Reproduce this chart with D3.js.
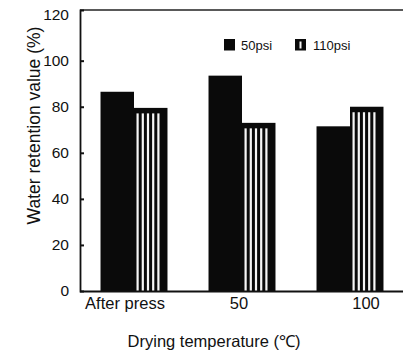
<!DOCTYPE html>
<html>
<head>
<meta charset="utf-8">
<script src="https://cdn.jsdelivr.net/npm/d3@7"></script>
<style>
  html, body { margin: 0; padding: 0; background: #fff; }
  svg { display: block; font-family: "Liberation Sans", Arial, Helvetica, sans-serif; }
</style>
</head>
<body>
<svg id="chart" width="403" height="351"></svg>
<script>
// Water retention value by drying temperature, for two pressing pressures
const categories = ["After press", "50", "100"];
const seriesNames = ["50psi", "110psi"];
const values50psi = [86.5, 93.5, 71.5];
const values110psi = [79.5, 73, 80];
const yTicks = [0, 20, 40, 60, 80, 100, 120];

const svg = d3.select("#chart");
const plotLeft = 80, plotRight = 404, plotTop = 10, plotBottom = 291;

const x0 = d3.scaleBand().domain(categories).range([plotLeft, plotRight])
  .paddingInner(0.38).paddingOuter(0.19);
const x1 = d3.scaleBand().domain(seriesNames).range([0, x0.bandwidth()]);
const y = d3.scaleLinear().domain([0, 122]).range([plotBottom, plotTop]);

const rows = categories.map((c, i) => ({
  cat: c,
  bars: [
    { key: "50psi", value: values50psi[i] },
    { key: "110psi", value: values110psi[i] }
  ]
}));

// Bars
const groups = svg.append("g").selectAll("g").data(rows).join("g")
  .attr("transform", d => `translate(${x0(d.cat)},0)`);

groups.selectAll("rect").data(d => d.bars).join("rect")
  .attr("x", d => x1(d.key))
  .attr("y", d => y(d.value))
  .attr("width", x1.bandwidth())
  .attr("height", d => y(0) - y(d.value))
  .attr("fill", "#0a0a0a");

// Vertical white stripes inside the 110psi bars
const stripePeriod = 5.2, stripeW = 2.2, insetL = 2.5, insetR = 6, topBand = 5.5;
groups.each(function(d) {
  const b = d.bars[1];
  const bx = x1(b.key), bw = x1.bandwidth();
  const g = d3.select(this);
  const xs = d3.range(bx + insetL, bx + bw - insetR - stripeW + 0.1, stripePeriod);
  g.selectAll("rect.stripe").data(xs).join("rect")
    .attr("class", "stripe")
    .attr("x", s => s)
    .attr("y", y(b.value) + topBand)
    .attr("width", stripeW)
    .attr("height", y(0) - y(b.value) - topBand)
    .attr("fill", "#f6f6f6");
});

// Top frame line
svg.append("line")
  .attr("x1", plotLeft).attr("x2", 403)
  .attr("y1", plotTop).attr("y2", plotTop)
  .attr("stroke", "#222").attr("stroke-width", 1.6);

// Y axis with inward ticks
const yAxis = d3.axisLeft(y).tickValues(yTicks).tickSize(-4).tickPadding(11);
const gy = svg.append("g").attr("transform", `translate(${plotLeft},0)`).call(yAxis);
gy.select(".domain").attr("stroke", "#111").attr("stroke-width", 1.8);
gy.selectAll(".tick line").attr("stroke", "#111").attr("stroke-width", 2)
  .filter(d => d === 0 || d === 120).remove();
gy.selectAll(".tick text").attr("font-size", 15.5).attr("fill", "#111")
  .attr("font-family", "Liberation Sans, Arial, sans-serif");

// X axis (baseline only, with category labels)
const labelNudge = [-9, -3, 16];
const xAxis = d3.axisBottom(x0).tickSize(0).tickPadding(6);
const gx = svg.append("g").attr("transform", `translate(0,${plotBottom})`).call(xAxis);
gx.select(".domain").attr("d", `M${plotLeft},0.5H403`)
  .attr("stroke", "#111").attr("stroke-width", 1.8);
gx.selectAll(".tick text").attr("font-size", 16.5).attr("fill", "#111")
  .attr("font-family", "Liberation Sans, Arial, sans-serif")
  .attr("dx", (d, i) => labelNudge[i]);

// Axis titles
svg.append("text")
  .attr("transform", `translate(40,${(plotTop + plotBottom) / 2 - 25}) rotate(-90)`)
  .attr("text-anchor", "middle").attr("font-size", 17.5).attr("fill", "#111")
  .text("Water retention value (%)");

svg.append("text")
  .attr("x", 214).attr("y", 347)
  .attr("text-anchor", "middle").attr("font-size", 16.5).attr("fill", "#111")
  .text("Drying temperature (℃)");

// Legend
const legend = svg.append("g");
const legendX = [224, 295];
seriesNames.forEach((name, i) => {
  const g = legend.append("g").attr("transform", `translate(${legendX[i]},39)`);
  g.append("rect").attr("width", 11).attr("height", 11.5).attr("fill", "#0a0a0a");
  if (i === 1) {
    g.append("rect").attr("x", 4.5).attr("y", 2.5).attr("width", 2).attr("height", 7)
      .attr("fill", "#f6f6f6");
  }
  g.append("text").attr("x", i === 0 ? 17 : 18).attr("y", 11)
    .attr("font-size", 13).attr("fill", "#111").text(name);
});
</script>
</body>
</html>
